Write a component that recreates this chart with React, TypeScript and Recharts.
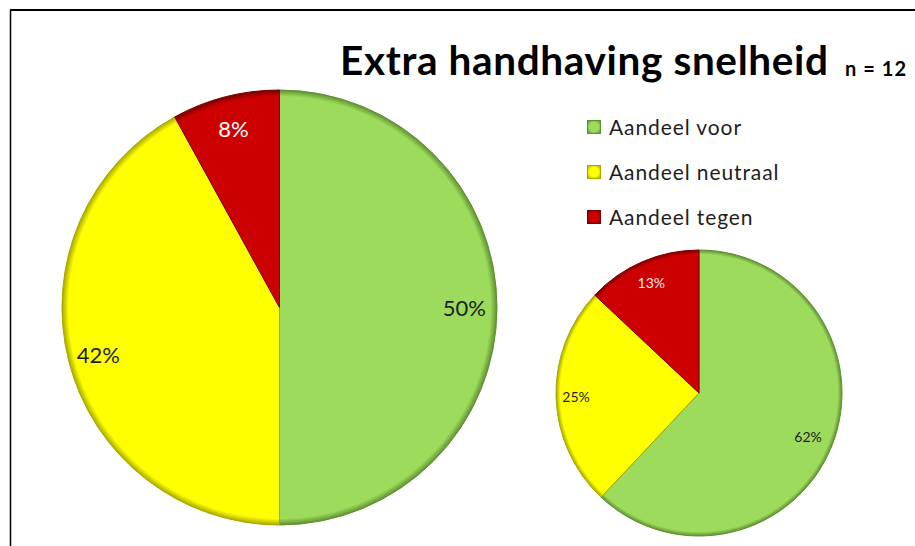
import React from "react"
import { PieChart, Pie, Cell, Legend } from "recharts"

const CATEGORIES = ["Aandeel voor", "Aandeel neutraal", "Aandeel tegen"]
const TOTAL_VALUES = [50, 42, 8]
const SUB_VALUES = [62, 25, 13]
const TITLE = "Extra handhaving snelheid"
const SUBTITLE = "n = 12"

const COLORS = ["#9cdb5c", "#ffff00", "#cc0000"]
const EDGES = ["#5f8f30", "#a8a800", "#7a0000"]
const LABEL_COLORS = ["#1e1e1e", "#1e1e1e", "#ffffff"]
const FONT = "Lato, 'Open Sans', sans-serif"

const bigData = CATEGORIES.map((name, i) => ({ name, value: TOTAL_VALUES[i] }))
const smallData = CATEGORIES.map((name, i) => ({ name, value: SUB_VALUES[i] }))

const RAD = Math.PI / 180

const makeLabel = (fontSize: number, ratios: number[], colors: string[]) => (props: any) => {
  const { cx, cy, midAngle, outerRadius, index } = props
  const value = props.payload?.value ?? props.value
  const r = outerRadius * ratios[index]
  const x = cx + r * Math.cos(-midAngle * RAD)
  const y = cy + r * Math.sin(-midAngle * RAD)
  return (
    <text
      x={x}
      y={y}
      textAnchor="middle"
      dominantBaseline="central"
      fill={colors[index]}
      fontSize={fontSize}
      fontFamily={FONT}
    >
      {value}%
    </text>
  )
}

const LegendContent = () => (
  <div style={{ fontFamily: FONT, fontSize: 21, letterSpacing: 0.9, color: "#1e1e1e" }}>
    {CATEGORIES.map((name, i) => (
      <div key={name} style={{ display: "flex", alignItems: "center", height: 45 }}>
        <span
          style={{
            display: "inline-block",
            width: 12,
            height: 12,
            marginRight: 8,
            background: `radial-gradient(circle, ${COLORS[i]} 55%, ${EDGES[i]} 100%)`,
            border: `1px solid ${EDGES[i]}`,
          }}
        />
        {name}
      </div>
    ))}
  </div>
)

const Gradient = ({ id, cx, cy, r, i }: any) => (
  <radialGradient id={id} gradientUnits="userSpaceOnUse" cx={cx} cy={cy} r={r}>
    <stop offset="0%" stopColor={COLORS[i]} />
    <stop offset="97%" stopColor={COLORS[i]} />
    <stop offset="100%" stopColor={EDGES[i]} />
  </radialGradient>
)

export default function App() {
  const big = { cx: 279.5, cy: 307.5, r: 217.5 }
  const small = { cx: 699, cy: 393, r: 143 }

  return (
    <div style={{ position: "absolute", left: 0, top: 0, width: 915, height: 546, background: "#fff" }}>
      <PieChart width={915} height={546} margin={{ top: 0, right: 0, bottom: 0, left: 0 }}>
        <defs>
          {COLORS.map((_, i) => (
            <Gradient key={`b${i}`} id={`gb${i}`} cx={big.cx} cy={big.cy} r={big.r} i={i} />
          ))}
          {COLORS.map((_, i) => (
            <Gradient key={`s${i}`} id={`gs${i}`} cx={small.cx} cy={small.cy} r={small.r} i={i} />
          ))}
        </defs>
        <Pie
          data={bigData}
          dataKey="value"
          nameKey="name"
          cx={big.cx}
          cy={big.cy}
          outerRadius={big.r}
          startAngle={90}
          endAngle={-270}
          labelLine={false}
          label={makeLabel(22, [0.85, 0.86, 0.85], LABEL_COLORS)}
          isAnimationActive={false}
        >
          {bigData.map((entry, i) => (
            <Cell key={entry.name} fill={`url(#gb${i}) ${COLORS[i]}`} stroke={EDGES[i]} strokeWidth={1} />
          ))}
        </Pie>
        <Pie
          data={smallData}
          dataKey="value"
          nameKey="name"
          cx={small.cx}
          cy={small.cy}
          outerRadius={small.r}
          startAngle={90}
          endAngle={-270}
          labelLine={false}
          label={makeLabel(14, [0.82, 0.86, 0.84], ["#1e1e1e", "#1e1e1e", "#ffe8e8"])}
          isAnimationActive={false}
        >
          {smallData.map((entry, i) => (
            <Cell key={entry.name} fill={`url(#gs${i}) ${COLORS[i]}`} stroke={EDGES[i]} strokeWidth={1} />
          ))}
        </Pie>
        <Legend
          content={<LegendContent />}
          layout="vertical"
          wrapperStyle={{ position: "absolute", left: 587, top: 104, width: 280 }}
        />
      </PieChart>
      <svg
        width={915}
        height={546}
        style={{ position: "absolute", left: 0, top: 0, pointerEvents: "none" }}
      >
        <line x1={10} y1={10} x2={915} y2={10} stroke="#000" strokeWidth={2} />
        <line x1={10.5} y1={10} x2={10.5} y2={546} stroke="#000" strokeWidth={1.5} />
        <text
          x={340}
          y={75}
          fontFamily={FONT}
          fontWeight={700}
          fontSize={40.5}
          textLength={488}
          lengthAdjust="spacing"
          fill="#000"
        >
          {TITLE}
        </text>
        <text
          x={845}
          y={76}
          fontFamily={FONT}
          fontWeight={700}
          fontSize={20}
          textLength={61}
          lengthAdjust="spacing"
          fill="#000"
        >
          {SUBTITLE}
        </text>
      </svg>
    </div>
  )
}
